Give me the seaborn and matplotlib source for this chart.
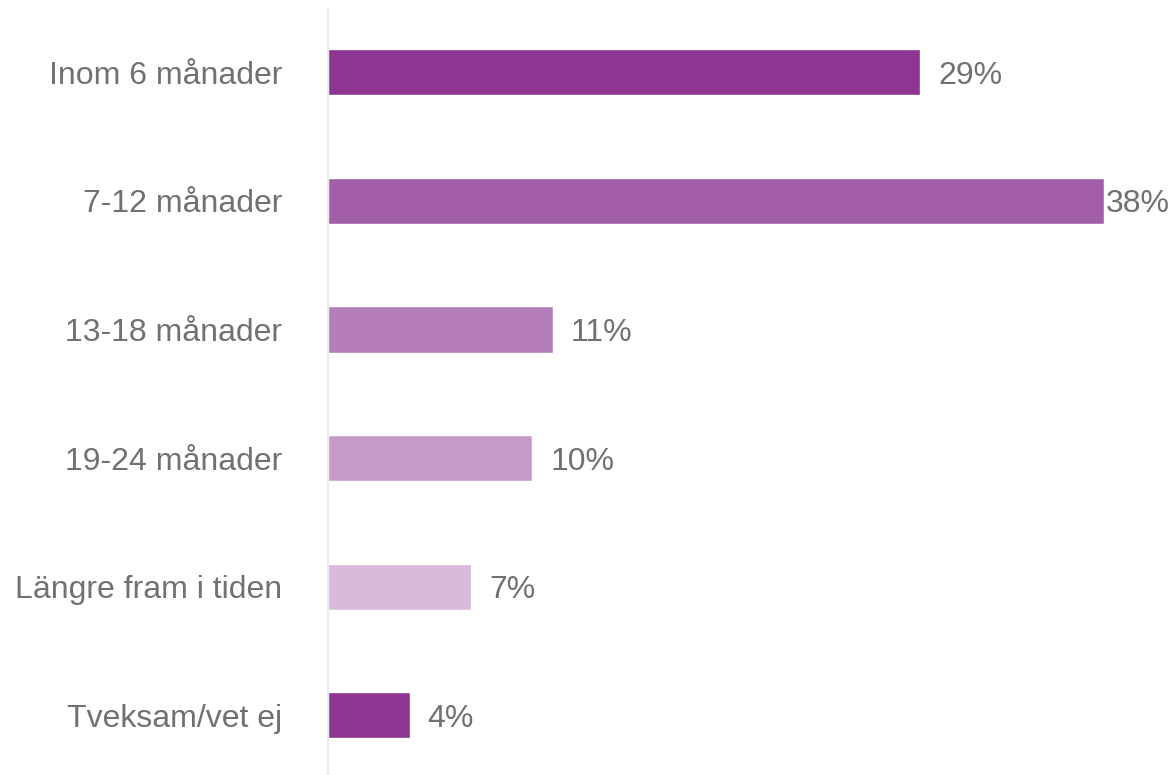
import matplotlib
matplotlib.use("Agg")
import matplotlib.pyplot as plt
import seaborn as sns
import pandas as pd

categories = ["Inom 6 månader", "7-12 månader", "13-18 månader", "19-24 månader",
              "Längre fram i tiden", "Tveksam/vet ej"]
values = [29, 38, 11, 10, 7, 4]
colors = ["#8C3591", "#A25FA7", "#B57EBB", "#C69BCA", "#D9BADB", "#8C3591"]

sns.set_style("white")
plt.rcParams["font.family"] = ["Liberation Sans", "DejaVu Sans"]

df = pd.DataFrame({"cat": categories, "val": values})

fig = plt.figure(figsize=(11.76, 7.75), dpi=100)
W, H = 1176, 775
x0 = 328
px_per_unit = 20.42
ax = fig.add_axes([x0 / W, -4.6 / H, (W - x0) / W, 771.6 / H])

sns.barplot(data=df, y="cat", x="val", hue="cat", palette=colors, legend=False,
            orient="h", width=0.36, ax=ax, saturation=1)

ax.set_xlim(0, (W - x0) / px_per_unit)
ax.set_ylim(len(categories) - 0.5, -0.5)
ax.set_xlabel("")
ax.set_ylabel("")
ax.set_xticks([])
for s in ["top", "right", "bottom"]:
    ax.spines[s].set_visible(False)
ax.spines["left"].set_color("#EBEBEB")
ax.spines["left"].set_linewidth(1.5)
ax.tick_params(axis="y", length=0, pad=33, labelsize=23, labelcolor="#717171")

xmax = ax.get_xlim()[1]
for i, v in enumerate(values):
    # label offset from bar end; shift inward if it would leave the figure
    label_w_units = 68 / px_per_unit
    off = 18 / px_per_unit
    x = v + off
    if x + label_w_units > xmax:
        x = v + 2 / px_per_unit
    ax.text(x, i, f"{v}%", va="center_baseline", ha="left", fontsize=23,
            color="#717171", clip_on=False)

fig.savefig("out.png", dpi=100)
